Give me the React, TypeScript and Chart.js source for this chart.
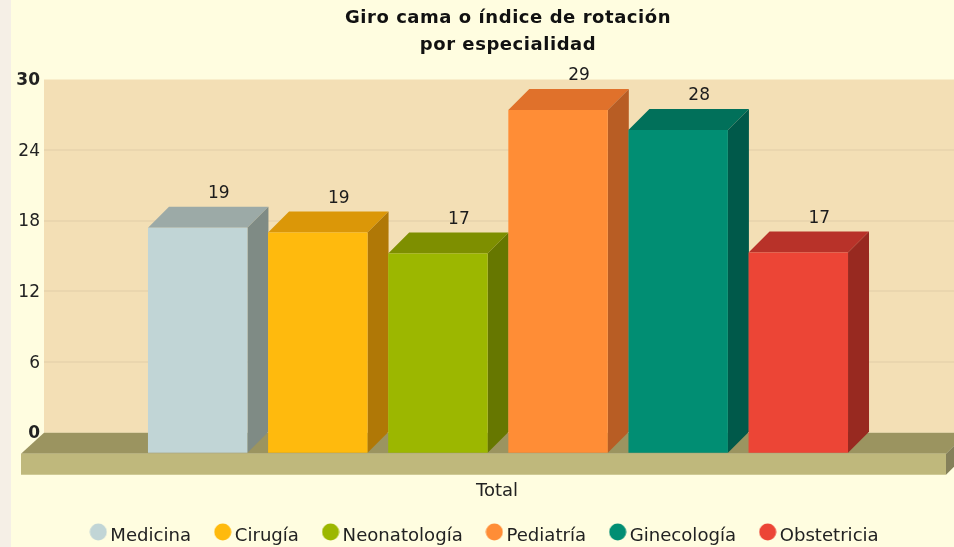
import React, { useEffect, useRef } from "react";
import { Chart, registerables } from "chart.js";

Chart.register(...registerables);

const categories = ["Total"];
const seriesNames = ["Medicina", "Cirugía", "Neonatología", "Pediatría", "Ginecología", "Obstetricia"];
const seriesValues = [19.2, 18.8, 17.0, 29.2, 27.5, 17.1];
const shownLabels = ["19", "19", "17", "29", "28", "17"];
const frontColors = ["#C1D5D6", "#FFBA0D", "#9CB700", "#FF8D36", "#018E73", "#EC4536"];
const topColors = ["#9CAAA7", "#DB9708", "#7E8F00", "#E0712B", "#01705A", "#B83229"];
const sideColors = ["#7F8B85", "#B07806", "#667700", "#B85D24", "#00594A", "#982920"];
const titleLines = ["Giro cama o índice de rotación", "por especialidad"];
const yMax = 30;
const yStep = 6;

const FONT = "'DejaVu Sans', sans-serif";
const PAGE = "#FFFDE0";
const STRIP = "#F5EFE6";
const WALL = "#F3DFB5";
const GRID = "#EAD6AE";
const FLOOR_TOP = "#9B9460";
const FLOOR_FRONT = "#BFB87C";
const FLOOR_SIDE = "#85805A";
const DEPTH = 21;
const SHIFT_X = -1;

function poly(ctx: CanvasRenderingContext2D, pts: number[][], fill: string) {
  ctx.fillStyle = fill;
  ctx.beginPath();
  pts.forEach(([x, y], i) => (i ? ctx.lineTo(x, y) : ctx.moveTo(x, y)));
  ctx.closePath();
  ctx.fill();
}

function dot(color: string) {
  const c = document.createElement("canvas");
  c.width = 18;
  c.height = 26;
  const g = c.getContext("2d")!;
  g.fillStyle = color;
  g.beginPath();
  g.arc(9, 9, 8.5, 0, Math.PI * 2);
  g.fill();
  return c;
}

const scene3d = {
  id: "scene3d",
  afterLayout(chart: any) {
    const t = chart.titleBlock;
    t.left += 31;
    t.right += 31;
    const drawTitle = t.draw;
    t.draw = function (...args: any[]) {
      chart.ctx.letterSpacing = "0.55px";
      drawTitle.apply(t, args);
      chart.ctx.letterSpacing = "0px";
    };
    chart.legend.left += 10;
    chart.legend.right += 10;
  },
  beforeDraw(chart: any) {
    const { ctx, chartArea: a, height, width } = chart;
    ctx.save();
    ctx.fillStyle = PAGE;
    ctx.fillRect(0, 0, width, height);
    ctx.fillStyle = STRIP;
    ctx.fillRect(0, 0, 11, height);
    ctx.fillStyle = WALL;
    ctx.fillRect(a.left, a.top, a.right - a.left, a.bottom - a.top);
    ctx.restore();
  },
  beforeDatasetsDraw(chart: any) {
    const { ctx, chartArea: a } = chart;
    const l = a.left - 23;
    const r = a.right - 8;
    const b = a.bottom + DEPTH;
    poly(ctx, [[l, b], [a.left, a.bottom], [r + DEPTH, a.bottom], [r, b]], FLOOR_TOP);
    poly(ctx, [[l, b], [r, b], [r, b + DEPTH], [l, b + DEPTH]], FLOOR_FRONT);
    poly(ctx, [[r, b], [r + DEPTH, a.bottom], [r + DEPTH, a.bottom + DEPTH], [r, b + DEPTH]], FLOOR_SIDE);
    ctx.save();
    ctx.translate(SHIFT_X, DEPTH);
    seriesNames.forEach((_, i) => {
      const el = chart.getDatasetMeta(i).data[0];
      const x0 = el.x - el.width / 2;
      const x1 = el.x + el.width / 2;
      poly(ctx, [[x0, el.y], [x0 + DEPTH, el.y - DEPTH], [x1 + DEPTH, el.y - DEPTH], [x1, el.y]], topColors[i]);
      poly(ctx, [[x1, el.y], [x1 + DEPTH, el.y - DEPTH], [x1 + DEPTH, el.base - DEPTH], [x1, el.base]], sideColors[i]);
    });
  },
  afterDatasetsDraw(chart: any) {
    const { ctx } = chart;
    seriesNames.forEach((_, i) => {
      const el = chart.getDatasetMeta(i).data[0];
      ctx.fillStyle = "#1c1c1c";
      ctx.font = `17px ${FONT}`;
      ctx.textAlign = "center";
      ctx.textBaseline = "middle";
      ctx.fillText(shownLabels[i], el.x + DEPTH, el.y - DEPTH - 13);
    });
    ctx.restore();
  },
};

export default function App() {
  const ref = useRef<HTMLCanvasElement>(null);
  useEffect(() => {
    const chart = new Chart(ref.current!, {
      type: "bar",
      plugins: [scene3d],
      data: {
        labels: categories,
        datasets: seriesNames.map((name, i) => ({
          label: name,
          data: [seriesValues[i]],
          backgroundColor: frontColors[i],
          borderWidth: 0,
          clip: false as any,
          categoryPercentage: 0.792,
          barPercentage: 0.828,
        })),
      },
      options: {
        animation: false,
        responsive: false,
        layout: { padding: 0 },
        plugins: {
          title: {
            display: true,
            text: titleLines,
            color: "#111",
            font: { family: FONT, size: 18, weight: "bold", lineHeight: 1.5 },
            padding: { top: 5, bottom: 20.5 },
          },
          legend: {
            position: "bottom",
            labels: {
              usePointStyle: true,
              boxWidth: 6,
              boxHeight: 11,
              padding: 28.6,
              color: "#222",
              font: { family: FONT, size: 18.1 },
              generateLabels(c: any) {
                return Chart.defaults.plugins.legend.labels.generateLabels(c).map((it: any, i: number) => ({
                  ...it,
                  pointStyle: dot(frontColors[i]),
                }));
              },
            },
          },
          tooltip: { enabled: false },
        },
        scales: {
          x: {
            afterFit(s: any) {
              s.height = 65.5;
            },
            grid: { display: false, drawTicks: false },
            border: { display: false },
            ticks: {
              color: "#222",
              font: { family: FONT, size: 18 },
              padding: 48,
              labelOffset: -2,
            },
          },
          y: {
            min: 0,
            max: yMax,
            afterFit(s: any) {
              s.width = 44;
            },
            border: { display: false },
            grid: {
              drawTicks: false,
              lineWidth: 2,
              color: (c: any) => (c.tick.value === 0 || c.tick.value === yMax ? "transparent" : GRID),
            },
            ticks: {
              stepSize: yStep,
              padding: 4,
              labelOffset: 1,
              color: "#222",
              font: (c: any) => ({
                family: FONT,
                size: 17,
                weight: c.tick && (c.tick.value === 0 || c.tick.value === yMax) ? "bold" : "normal",
              }),
            },
          },
        },
      },
    } as any);
    return () => chart.destroy();
  }, []);
  return (
    <div style={{ position: "fixed", left: 0, top: 0, width: 954, height: 547, overflow: "hidden", background: PAGE }}>
      <canvas ref={ref} width={954} height={555} style={{ display: "block" }} />
    </div>
  );
}
